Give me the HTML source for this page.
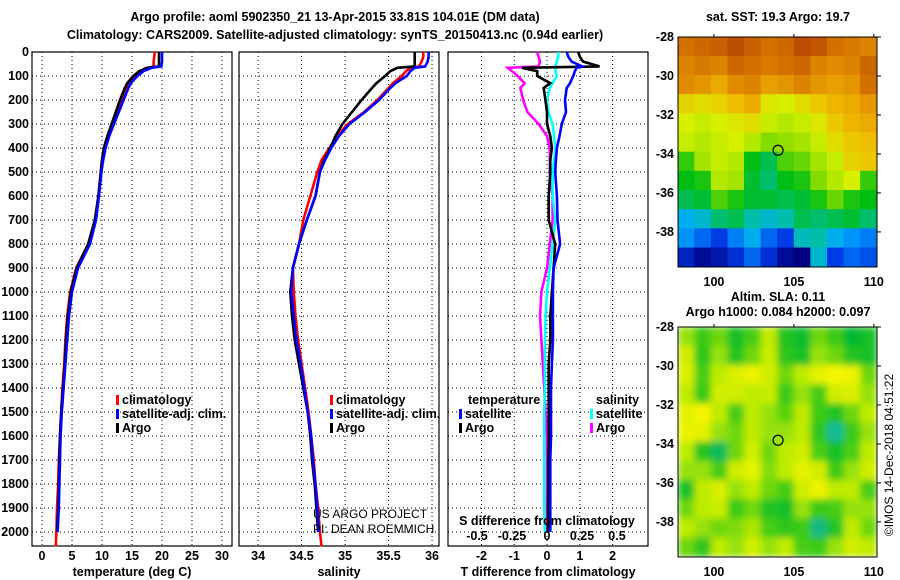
<!DOCTYPE html>
<html><head><meta charset="utf-8"><style>
body{margin:0;background:#fff;}
svg{display:block;font-family:"Liberation Sans",sans-serif;}
.t{font-weight:bold;font-size:12.5px;fill:#000;}
</style></head><body>
<svg id="s" width="900" height="580" viewBox="0 0 900 580">
<text class="t" x="335" y="21" text-anchor="middle" font-size="13.5">Argo profile: aoml 5902350_21 13-Apr-2015 33.81S 104.01E (DM data)</text>
<text class="t" x="335" y="39" text-anchor="middle" font-size="13.5">Climatology: CARS2009. Satellite-adjusted climatology: synTS_20150413.nc (0.94d earlier)</text>
<g id="g"></g>
</svg>
<script>
// ---- profile data ----
const depths=[0,20,40,60,66,80,100,130,150,200,250,300,350,400,450,500,600,700,800,900,1000,1100,1200,1300,1400,1500,1600,1700,1800,1900,2000,2060];
const tempArgo=[19.5,19.5,19.5,19.5,17.5,16.2,15.2,14.2,13.8,13.0,12.3,11.6,10.9,10.3,10.0,9.8,9.4,8.8,7.7,5.8,4.8,4.3,4.0,3.8,3.5,3.2,3.0,2.9,2.8,2.7,2.5,2.5];
const tempClim=[18.8,18.7,18.6,18.6,17.8,16.7,15.4,14.4,14.0,13.3,12.5,11.8,11.0,10.4,10.0,9.8,9.4,8.9,7.7,5.7,4.7,4.2,3.9,3.7,3.4,3.2,3.0,2.8,2.7,2.5,2.4,2.3];
const tempSat=[20.0,20.0,20.0,19.9,18.3,16.9,15.9,14.8,14.4,13.6,12.8,12.0,11.2,10.6,10.2,9.9,9.5,9.0,8.0,6.0,5.0,4.5,4.2,3.9,3.6,3.3,3.1,3.0,2.9,2.8,2.6,2.6];
const salArgo=[35.80,35.80,35.80,35.80,35.60,35.52,35.46,35.36,35.31,35.19,35.08,34.97,34.89,34.83,34.76,34.71,34.66,34.56,34.47,34.40,34.37,34.39,34.42,34.47,34.52,34.57,34.60,34.62,34.65,34.67,34.69,34.70];
const salClim=[35.90,35.90,35.88,35.85,35.75,35.70,35.65,35.55,35.50,35.37,35.22,35.03,34.91,34.82,34.73,34.68,34.60,34.52,34.47,34.40,34.41,34.43,34.46,34.50,34.54,34.58,34.61,34.64,34.66,34.69,34.71,34.73];
const salSat=[35.96,35.96,35.95,35.92,35.80,35.75,35.71,35.58,35.52,35.39,35.23,35.05,34.93,34.84,34.77,34.71,34.66,34.56,34.47,34.40,34.38,34.41,34.44,34.49,34.53,34.57,34.61,34.63,34.66,34.68,34.70,34.71];
const tdiffArgo=[0.95,1.0,1.1,1.6,-0.76,-0.3,-0.3,0.1,-0.1,-0.05,0,0,0.1,0.15,0.1,0.1,0.05,0.05,0.25,0.2,0.15,0.1,0.1,0.05,0.05,0.05,0.05,0.04,0.04,0.03,0.03,0.03];
const tdiffSat=[0.6,0.65,0.75,1.07,0.9,0.85,0.8,0.7,0.6,0.55,0.58,0.45,0.38,0.3,0.27,0.25,0.3,0.32,0.4,0.2,0.18,0.18,0.18,0.15,0.12,0.12,0.12,0.1,0.1,0.1,0.1,0.1];
const sdiffArgo=[-0.07,-0.06,-0.05,-0.06,-0.28,-0.25,-0.21,-0.16,-0.19,-0.17,-0.14,-0.06,0,0.02,0.02,0.02,0.04,0.04,0.02,0,-0.04,-0.05,-0.04,-0.03,-0.02,-0.01,0,0,0,0,0,0];
const sdiffSat=[0.08,0.08,0.07,0.06,0.06,0.06,0.07,0.04,0.02,0,0.01,0.04,0.05,0.06,0.05,0.04,0.04,0.06,0.04,0.02,0,-0.01,-0.015,-0.015,-0.015,-0.02,-0.02,-0.02,-0.02,-0.02,-0.015,-0.015];
const depthTicks=[0,100,200,300,400,500,600,700,800,900,1000,1100,1200,1300,1400,1500,1600,1700,1800,1900,2000];
const tempTicks=[0,5,10,15,20,25,30];
const salTicks=[34,34.5,35,35.5,36];
const tdTicks=[-2,-1,0,1,2];
const sdTicks=[-0.5,-0.25,0,0.25,0.5];
const sdTickLabels=["-0.5","-0.25","0","0.25","0.5"];
// ---- map data (rows top=-28 to bottom, cols 97.75E..110.2E) ----
const sstGrid=[
[20.8,20.9,21.0,21.2,21.0,20.8,20.9,21.2,21.1,20.8,20.7,20.6],
[20.6,20.7,20.6,20.9,20.8,20.7,20.8,20.9,20.6,20.5,20.6,20.9],
[20.5,20.4,20.2,20.5,20.6,20.3,20.4,20.6,20.4,20.3,20.4,20.8],
[19.8,19.7,19.8,20.0,20.2,19.6,19.5,19.7,19.9,20.1,20.2,20.4],
[19.5,19.4,19.5,19.6,19.7,19.4,19.3,19.4,19.6,19.9,20.1,20.2],
[19.4,19.3,19.4,19.5,19.3,19.0,19.1,19.2,19.4,19.7,19.9,20.0],
[18.7,19.2,19.4,19.3,18.5,18.3,18.8,18.9,19.2,19.4,19.8,19.9],
[18.5,18.6,19.3,19.2,18.4,18.2,18.5,18.6,19.0,19.3,19.5,18.7],
[18.3,18.4,18.8,18.6,18.4,18.4,18.3,18.4,18.6,18.9,18.6,18.5],
[17.6,17.8,18.2,18.3,18.0,17.8,18.0,18.3,18.2,18.3,18.4,18.2],
[17.4,17.2,17.0,17.3,17.6,17.2,17.0,17.9,18.0,17.6,17.4,17.3],
[16.8,16.6,16.7,16.9,17.2,16.9,16.6,16.5,17.8,17.0,17.2,17.1]];
const slaGrid=[
[0.10,0.05,0.08,0.02,0.06,0.12,0.03,0.01,0.08,0.05,0.00,0.02],
[0.14,0.04,0.10,0.03,0.08,0.13,0.04,0.02,0.10,0.08,0.03,0.02],
[0.15,0.06,0.12,0.15,0.17,0.14,0.08,0.12,0.16,0.18,0.17,0.08],
[0.12,0.05,0.14,0.14,0.12,0.13,0.05,0.10,0.06,0.14,0.15,0.10],
[0.16,0.18,0.12,0.06,0.12,0.10,0.07,0.12,0.05,0.03,0.08,0.12],
[0.17,0.16,0.10,0.08,0.12,0.10,0.10,0.12,0.04,-0.05,0.05,0.10],
[0.12,0.03,-0.02,0.08,0.14,0.08,0.12,0.14,0.06,0.02,0.06,0.12],
[0.10,0.10,0.06,0.14,0.16,0.09,0.12,0.16,0.14,0.05,0.10,0.14],
[0.02,0.12,0.15,0.10,0.12,0.08,0.06,0.14,0.17,0.12,0.12,0.06],
[0.08,0.12,0.13,0.05,0.08,0.03,0.02,0.10,0.05,0.06,0.10,0.10],
[0.12,0.10,0.08,0.09,0.11,0.06,0.04,0.05,-0.04,0.03,0.12,0.08],
[0.08,0.04,0.12,0.10,0.14,0.10,0.12,0.06,0.05,0.10,0.14,0.12]];
const lonTicks=[100,105,110];
const latTicks=[-28,-30,-32,-34,-36,-38];

const NS='http://www.w3.org/2000/svg';
const G=document.getElementById('g');
function mk(tag,attrs,parent,txt){const e=document.createElementNS(NS,tag);for(const k in attrs)e.setAttribute(k,attrs[k]);if(txt!==undefined)e.textContent=txt;(parent||G).appendChild(e);return e;}
const TOP=52,BOT=546;
const yD=d=>TOP+d*0.24;
function panel(x0,x1,xmin,xmax,ticks,labels,title,name){
  const g=mk('g',{});
  
  
  const sx=v=>x0+(v-xmin)/(xmax-xmin)*(x1-x0);
  ticks.forEach((t,i)=>{const x=sx(t);
    const l=mk('line',{x1:x,x2:x,y1:TOP,y2:BOT,stroke:'#000','stroke-width':1,'stroke-dasharray':'1,3'},g);
    
    const tx=mk('text',{x:x,y:560,'text-anchor':'middle',class:'t'},g,labels[i]);
    });
  depthTicks.forEach(d=>{const y=yD(d);
    const l=mk('line',{x1:x0,x2:x1,y1:y,y2:y,stroke:'#000','stroke-width':1,'stroke-dasharray':'1,3'},g);
    });
  const r=mk('rect',{x:x0,y:TOP,width:x1-x0,height:BOT-TOP,fill:'none',stroke:'#000','stroke-width':1.2},g);
  
  const tt=mk('text',{x:(x0+x1)/2,y:576,'text-anchor':'middle',class:'t'},g,title);
  
  return {g,sx};
}
function series(p,vals,color,name,n){
  const pts=[];const m=n||vals.length;
  for(let i=0;i<m;i++)pts.push(p.sx(vals[i]).toFixed(1)+','+yD(depths[i]).toFixed(1));
  const l=mk('polyline',{points:pts.join(' '),fill:'none',stroke:color,'stroke-width':2.6,'stroke-linejoin':'miter'},p.g);
  
}
function legend(g,x,y,color,label,name){
  const r=mk('rect',{x:x,y:y-9,width:3,height:10,fill:color},g);
  
  const t=mk('text',{x:x+6,y:y,class:'t'},g,label);
  
}
depthTicks.forEach(d=>{const t=mk('text',{x:29,y:yD(d)+4,'text-anchor':'end',class:'t'},G,String(d));
  });
const p1=panel(32,232,-1.67,31.67,tempTicks,tempTicks.map(String),'temperature (deg C)','temperature-panel');
series(p1,tempClim,'#f00','temp-climatology-line');
series(p1,tempArgo,'#000','temp-argo-line',31);
series(p1,tempSat,'#00f','temp-satellite-line',31);
legend(p1.g,116,404,'#f00','climatology','legend-climatology');
legend(p1.g,116,418,'#00f','satellite-adj. clim.','legend-satellite');
legend(p1.g,116,432,'#000','Argo','legend-argo');
const p2=panel(239,439,33.78,36.08,salTicks,salTicks.map(String),'salinity','salinity-panel');
series(p2,salClim,'#f00','sal-climatology-line');
series(p2,salArgo,'#000','sal-argo-line',31);
series(p2,salSat,'#00f','sal-satellite-line',31);
legend(p2.g,330,404,'#f00','climatology','legend-climatology');
legend(p2.g,330,418,'#00f','satellite-adj. clim.','legend-satellite');
legend(p2.g,330,432,'#000','Argo','legend-argo');
const c1=mk('text',{x:313,y:518,'font-size':12,fill:'#000'},p2.g,'US ARGO PROJECT');

const c2=mk('text',{x:313,y:533,'font-size':12,fill:'#000'},p2.g,'PI: DEAN ROEMMICH');

const p3=panel(448,648,-3.02,3.08,tdTicks,tdTicks.map(String),'T difference from climatology','difference-panel');
const sS={g:p3.g,sx:v=>547+v*140};
series(sS,sdiffArgo,'#f0f','sdiff-argo-line',31);
series(sS,sdiffSat,'#0ff','sdiff-satellite-line',31);
series(p3,tdiffArgo,'#000','tdiff-argo-line',31);
series(p3,tdiffSat,'#00f','tdiff-satellite-line',31);
const lt=mk('text',{x:468,y:404,class:'t'},p3.g,'temperature');
const ls=mk('text',{x:596,y:404,class:'t'},p3.g,'salinity');
legend(p3.g,459,418,'#00f','satellite','legend-t-satellite');
legend(p3.g,459,432,'#000','Argo','legend-t-argo');
legend(p3.g,590,418,'#0ff','satellite','legend-s-satellite');
legend(p3.g,590,432,'#f0f','Argo','legend-s-argo');
const st=mk('text',{x:547,y:525,'text-anchor':'middle',class:'t'},p3.g,'S difference from climatology');

sdTicks.forEach((v,i)=>{const t=mk('text',{x:sS.sx(v),y:540,'text-anchor':'middle',class:'t'},p3.g,sdTickLabels[i]);
  });

// ---- maps ----
function col(stops,v){if(v<=stops[0][0])return 'rgb('+stops[0][1].join(',')+')';
  for(let i=1;i<stops.length;i++){if(v<=stops[i][0]){const a=stops[i-1],b=stops[i],f=(v-a[0])/(b[0]-a[0]);
    return 'rgb('+a[1].map((c,k)=>Math.round(c+(b[1][k]-c)*f)).join(',')+')';}}
  return 'rgb('+stops[stops.length-1][1].join(',')+')';}
const sstStops=[[16.5,[0,0,130]],[17,[0,60,230]],[17.5,[0,170,255]],[18,[0,190,170]],[18.5,[0,190,20]],[19,[130,220,0]],[19.5,[215,240,0]],[20,[240,190,0]],[20.5,[225,140,0]],[21,[200,95,0]],[21.5,[170,50,0]]];
const slaStops=[[-0.06,[30,185,170]],[0,[0,185,50]],[0.06,[70,205,20]],[0.12,[190,235,0]],[0.18,[245,245,0]]];
const MX0=678,MX1=877,LON0=97.75,LON1=110.2;
const mxs=v=>MX0+(v-LON0)/(LON1-LON0)*(MX1-MX0);
function map(y0,y1,grid,stops,name,blur){
  const g=mk('g',{});
  const my=lat=>y0+(-28-lat)/11.8*(y1-y0);
  const rows=grid.length,cols=grid[0].length,cw=(MX1-MX0)/cols,ch=(y1-y0)/rows;
  const cl=mk('clipPath',{id:name+'-clip'},g);mk('rect',{x:MX0,y:y0,width:MX1-MX0,height:y1-y0},cl);
  const inner=mk('g',{'clip-path':'url(#'+name+'-clip)'},g);
  const ig=blur?mk('g',{filter:'url(#bl)'},inner):inner;
  grid.forEach((row,r)=>row.forEach((v,c)=>{
    const e=mk('rect',{x:MX0+c*cw-0.3,y:y0+r*ch-0.3,width:cw+0.6,height:ch+0.6,fill:col(stops,v)},ig);
    }));
  const f=mk('rect',{x:MX0,y:y0,width:MX1-MX0,height:y1-y0,fill:'none',stroke:'#000','stroke-width':1},g);
  
  latTicks.forEach(l=>{const y=my(l);
    mk('line',{x1:MX1,x2:MX1+4,y1:y,y2:y,stroke:'#000'},g);
    const t=mk('text',{x:674,y:y+4,'text-anchor':'end',class:'t'},g,String(l));
    });
  lonTicks.forEach(l=>{const x=mxs(l);
    mk('line',{x1:x,x2:x,y1:y0,y2:y0-3,stroke:'#000'},g);
    const t=mk('text',{x:x,y:y1+19,'text-anchor':'middle',class:'t'},g,String(l));
    });
  const m=mk('circle',{cx:mxs(104.01),cy:my(-33.81),r:5,fill:'none',stroke:'#000','stroke-width':1.2},g);
  
}
const defs=mk('defs',{});const flt=mk('filter',{id:'bl',x:'-10%',y:'-10%',width:'120%',height:'120%'},defs);
mk('feGaussianBlur',{stdDeviation:3.5},flt);
map(37,267,sstGrid,sstStops,'sst-map',false);
map(327,557,slaGrid,slaStops,'sla-map',true);
const m1=mk('text',{x:778,y:21,'text-anchor':'middle',class:'t'},G,'sat. SST: 19.3 Argo: 19.7');

const m2=mk('text',{x:778,y:301,'text-anchor':'middle',class:'t'},G,'Altim. SLA: 0.11');

const m3=mk('text',{x:778,y:316,'text-anchor':'middle',class:'t'},G,'Argo h1000: 0.084 h2000: 0.097');

const ts=mk('text',{x:0,y:0,'font-size':12,fill:'#000','text-anchor':'middle',transform:'translate(893,455) rotate(-90)'},G,'©IMOS 14-Dec-2018 04:51:22');

</script>
</body></html>
